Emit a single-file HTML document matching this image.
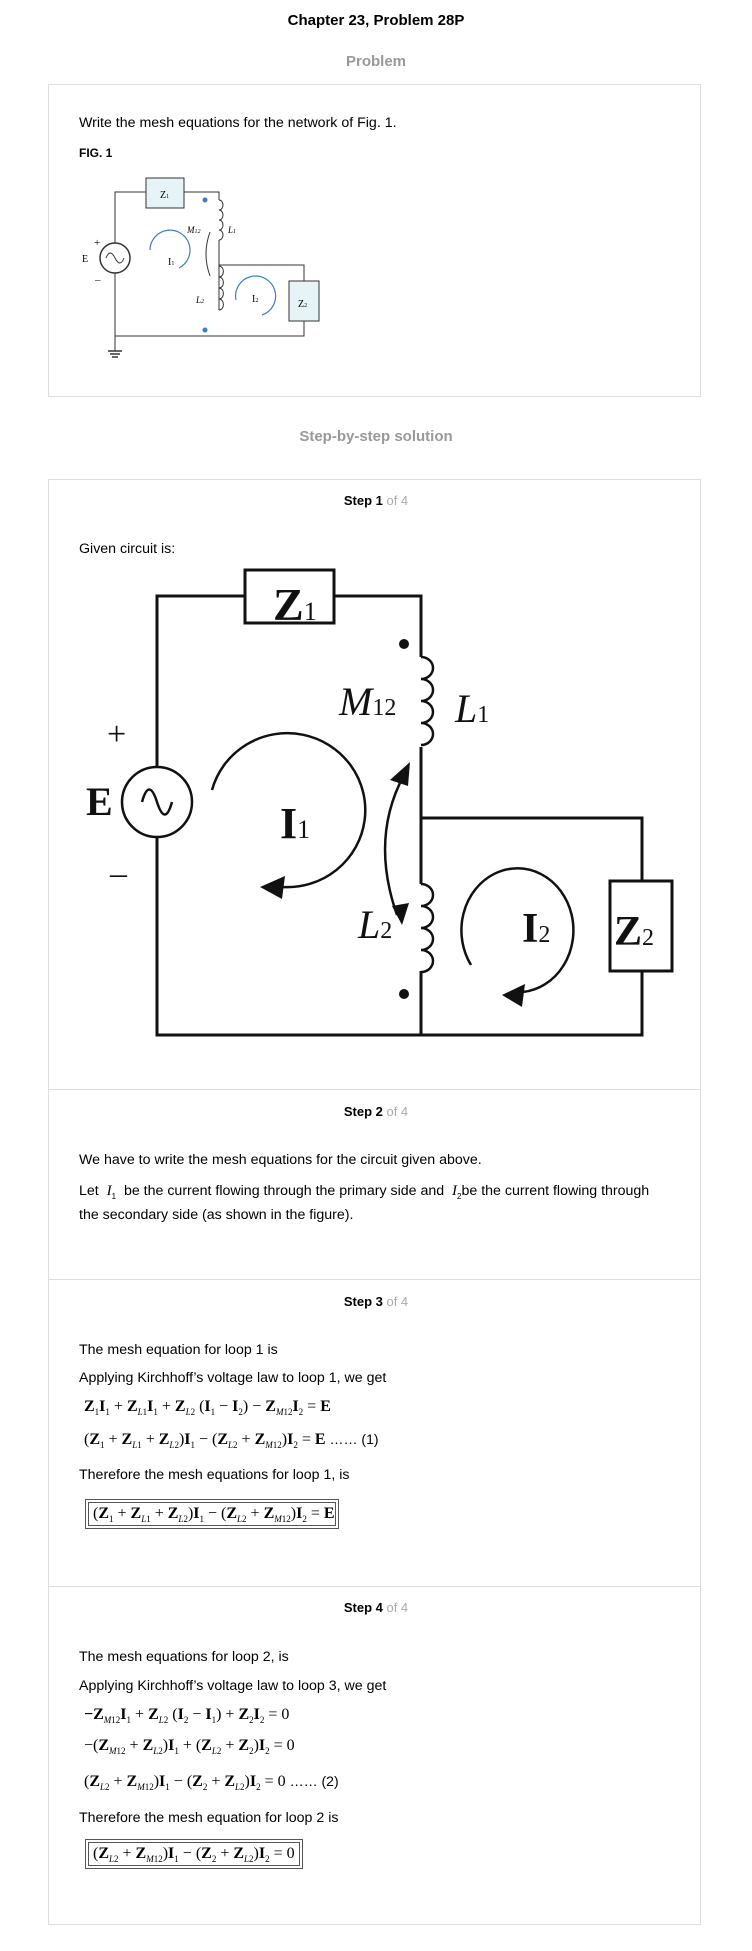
<!DOCTYPE html>
<html><head><meta charset="utf-8">
<style>
body{margin:0;width:752px;height:1951px;background:#fff;font-family:"Liberation Sans",Arial,sans-serif;color:#000;position:relative;overflow:hidden}
.a{position:absolute;white-space:nowrap}
.t{font-size:14.2px}
.box{position:absolute;left:48px;width:653px;border:1px solid #ddd;box-sizing:border-box}
.div{position:absolute;left:49px;width:652px;height:1px;background:#ddd}
.step{position:absolute;left:0;width:752px;text-align:center;font-size:13px;font-weight:bold}
.step span{color:#aaa;font-weight:normal}
.eq{font-family:"Liberation Serif",serif;font-weight:bold;font-size:16px}
.eq sub{font-size:9px;font-weight:normal}
.eq sub i{font-style:italic}
.eq .n{font-weight:normal}
.bx{border:1px solid #555;padding:2px 3px;outline:1px solid #555;outline-offset:-4px}
</style></head><body>
<div class="a" style="left:0;width:752px;text-align:center;top:12px;font-size:15px;font-weight:bold">Chapter 23, Problem 28P</div>
<div class="a" style="left:0;width:752px;text-align:center;top:53px;font-size:15px;font-weight:bold;color:#999">Problem</div>
<div class="box" style="top:84px;height:313px"></div>
<div class="a t" style="left:79px;top:115px">Write the mesh equations for the network of Fig. 1.</div>
<div class="a" style="left:79px;top:146px;font-size:12px;font-weight:bold">FIG. 1</div>
<svg class="a" style="left:0;top:0" width="752" height="420">
<g stroke="#333" stroke-width="1" fill="none">
<path d="M115 243V192H146M184 192H219V200M219 240V310M219 336V336H304V321M304 281V265H219M115 273V351M115 336H219"/>
<rect x="146" y="178" width="38" height="30" fill="#e6f4f8"/>
<rect x="289" y="281" width="30" height="40" fill="#e6f4f8"/>
<circle cx="115" cy="258" r="15" stroke-width="1.5"/>
<path d="M106 258q4-10 9 0t9 0"/>
<path d="M219 200a4 5 0 0 1 0 10a4 5 0 0 1 0 10a4 5 0 0 1 0 10a4 5 0 0 1 0 10"/>
<path d="M219 266a4 5 0 0 1 0 11a4 5 0 0 1 0 11a4 5 0 0 1 0 11a4 5 0 0 1 0 11"/>
<path d="M108 351h14M110 354h10M112 357h6" stroke-width="1.5"/>
<path d="M210 232q-8 22 0 44"/>
</g>
<g stroke="#3b7fc4" fill="none" stroke-width="1.2"><path d="M150 250a20 20 0 1 1 29 18"/><path d="M236 300a20 20 0 1 1 26 15"/></g>
<circle cx="205" cy="200" r="2.5" fill="#3b7fc4"/><circle cx="205" cy="330" r="2.5" fill="#3b7fc4"/>
<g font-family="Liberation Serif" font-size="10"><text x="160" y="198">Z<tspan font-size="6">1</tspan></text><text x="298" y="307">Z<tspan font-size="6">2</tspan></text><text x="187" y="233" font-style="italic" font-size="9">M<tspan font-size="6">12</tspan></text><text x="228" y="233" font-style="italic" font-size="9">L<tspan font-size="6">1</tspan></text><text x="196" y="303" font-style="italic" font-size="9">L<tspan font-size="6">2</tspan></text><text x="168" y="265">I<tspan font-size="6">1</tspan></text><text x="252" y="302">I<tspan font-size="6">2</tspan></text><text x="82" y="262">E</text><text x="94" y="246" font-size="11">+</text><text x="95" y="283" font-size="11">–</text></g>
</svg>
<div class="a" style="left:0;width:752px;text-align:center;top:428px;font-size:15px;font-weight:bold;color:#999">Step-by-step solution</div>
<div class="box" style="top:479px;height:1446px"></div>
<div class="step" style="top:493px">Step 1 <span>of 4</span></div>
<div class="a t" style="left:79px;top:541px">Given circuit is:</div>
<svg class="a" style="left:0;top:0" width="752" height="1060">
<g stroke="#111" stroke-width="3" fill="none">
<path d="M157 767V596H245M334 596H421V657M421 747V884M421 971V1035H157V837M421 818H642V881M642 971V1035H421"/>
<rect x="245" y="570" width="89" height="53"/>
<rect x="610" y="881" width="62" height="90"/>
<circle cx="157" cy="802" r="35" stroke-width="2.5"/>
<path d="M142 802q7-25 15 0t15 0" stroke-width="2.5"/>
<path d="M421 657a12 11 0 0 1 0 22a12 11 0 0 1 0 22a12 11 0 0 1 0 22a12 11 0 0 1 0 22" stroke-width="2.5"/>
<path d="M421 884a12 11 0 0 1 0 22a12 11 0 0 1 0 22a12 11 0 0 1 0 22a12 11 0 0 1 0 22" stroke-width="2.5"/>
<path d="M212 790A78 77 0 1 1 282 887H272" stroke-width="2.5"/>
<path d="M471 965A56 62 0 1 1 523 992H514" stroke-width="2.5"/>
<path d="M404 775Q370 838 397 915" stroke-width="2.5"/>
</g>
<g fill="#111"><polygon points="260,887 285,876 282,899"/><polygon points="502,995 525,984 522,1007"/><polygon points="410,762 390,780 408,786"/><polygon points="402,925 392,906 409,903"/><circle cx="404" cy="644" r="5"/><circle cx="404" cy="994" r="5"/></g>
<g font-family="Liberation Serif" fill="#111">
<text x="273" y="620" font-size="46" font-weight="bold">Z<tspan font-size="26" font-weight="normal">1</tspan></text>
<text x="614" y="945" font-size="42" font-weight="bold">Z<tspan font-size="24" font-weight="normal">2</tspan></text>
<text x="339" y="715" font-size="40" font-style="italic">M<tspan font-size="24" font-style="normal">12</tspan></text>
<text x="455" y="722" font-size="40" font-style="italic">L<tspan font-size="24" font-style="normal">1</tspan></text>
<text x="358" y="938" font-size="40" font-style="italic">L<tspan font-size="24" font-style="normal">2</tspan></text>
<text x="280" y="838" font-size="44" font-weight="bold">I<tspan font-size="26" font-weight="normal">1</tspan></text>
<text x="522" y="942" font-size="42" font-weight="bold">I<tspan font-size="24" font-weight="normal">2</tspan></text>
<text x="86" y="815" font-size="40" font-weight="bold">E</text>
<text x="107" y="745" font-size="34">+</text>
<text x="110" y="884" font-size="34">–</text>
</g>
</svg>
<div class="div" style="top:1089px"></div>
<div class="step" style="top:1104px">Step 2 <span>of 4</span></div>
<div class="a t" style="left:79px;top:1152px">We have to write the mesh equations for the circuit given above.</div>
<div class="a t" style="left:79px;top:1183px">Let &nbsp;<i style="font-family:'Liberation Serif';font-size:15px">I</i><sub style="font-size:8px">1</sub>&nbsp; be the current flowing through the primary side and &nbsp;<i style="font-family:'Liberation Serif';font-size:15px">I</i><sub style="font-size:8px">2</sub>be the current flowing through</div>
<div class="a t" style="left:79px;top:1207px">the secondary side (as shown in the figure).</div>
<div class="div" style="top:1279px"></div>
<div class="step" style="top:1294px">Step 3 <span>of 4</span></div>
<div class="a t" style="left:79px;top:1342px">The mesh equation for loop 1 is</div>
<div class="a t" style="left:79px;top:1370px">Applying Kirchhoff’s voltage law to loop 1, we get</div>
<div class="a eq" style="left:84px;top:1398px">Z<sub>1</sub>I<sub>1</sub> <span class="n">+</span> Z<sub><i>L</i>1</sub>I<sub>1</sub> <span class="n">+</span> Z<sub><i>L</i>2</sub> <span class="n">(</span>I<sub>1</sub> <span class="n">−</span> I<sub>2</sub><span class="n">)</span> <span class="n">−</span> Z<sub><i>M</i>12</sub>I<sub>2</sub> <span class="n">=</span> E</div>
<div class="a eq" style="left:84px;top:1431px"><span class="n">(</span>Z<sub>1</sub> <span class="n">+</span> Z<sub><i>L</i>1</sub> <span class="n">+</span> Z<sub><i>L</i>2</sub><span class="n">)</span>I<sub>1</sub> <span class="n">−</span> <span class="n">(</span>Z<sub><i>L</i>2</sub> <span class="n">+</span> Z<sub><i>M</i>12</sub><span class="n">)</span>I<sub>2</sub> <span class="n">=</span> E <span style="font-family:'Liberation Sans';font-weight:normal;font-size:14px">…… (1)</span></div>
<div class="a t" style="left:79px;top:1467px">Therefore the mesh equations for loop 1, is</div>
<div class="a eq bx" style="left:85px;top:1499px;width:246px;height:24px;line-height:24px">&nbsp;<span class="n">(</span>Z<sub>1</sub> <span class="n">+</span> Z<sub><i>L</i>1</sub> <span class="n">+</span> Z<sub><i>L</i>2</sub><span class="n">)</span>I<sub>1</sub> <span class="n">−</span> <span class="n">(</span>Z<sub><i>L</i>2</sub> <span class="n">+</span> Z<sub><i>M</i>12</sub><span class="n">)</span>I<sub>2</sub> <span class="n">=</span> E</div>
<div class="div" style="top:1586px"></div>
<div class="step" style="top:1600px">Step 4 <span>of 4</span></div>
<div class="a t" style="left:79px;top:1649px">The mesh equations for loop 2, is</div>
<div class="a t" style="left:79px;top:1678px">Applying Kirchhoff’s voltage law to loop 3, we get</div>
<div class="a eq" style="left:84px;top:1706px">−Z<sub><i>M</i>12</sub>I<sub>1</sub> <span class="n">+</span> Z<sub><i>L</i>2</sub> <span class="n">(</span>I<sub>2</sub> <span class="n">−</span> I<sub>1</sub><span class="n">)</span> <span class="n">+</span> Z<sub>2</sub>I<sub>2</sub> <span class="n">= 0</span></div>
<div class="a eq" style="left:84px;top:1737px"><span class="n">−(</span>Z<sub><i>M</i>12</sub> <span class="n">+</span> Z<sub><i>L</i>2</sub><span class="n">)</span>I<sub>1</sub> <span class="n">+</span> <span class="n">(</span>Z<sub><i>L</i>2</sub> <span class="n">+</span> Z<sub>2</sub><span class="n">)</span>I<sub>2</sub> <span class="n">= 0</span></div>
<div class="a eq" style="left:84px;top:1773px"><span class="n">(</span>Z<sub><i>L</i>2</sub> <span class="n">+</span> Z<sub><i>M</i>12</sub><span class="n">)</span>I<sub>1</sub> <span class="n">−</span> <span class="n">(</span>Z<sub>2</sub> <span class="n">+</span> Z<sub><i>L</i>2</sub><span class="n">)</span>I<sub>2</sub> <span class="n">= 0</span> <span style="font-family:'Liberation Sans';font-weight:normal;font-size:14px">…… (2)</span></div>
<div class="a t" style="left:79px;top:1810px">Therefore the mesh equation for loop 2 is</div>
<div class="a eq bx" style="left:85px;top:1839px;width:210px;height:24px;line-height:24px">&nbsp;<span class="n">(</span>Z<sub><i>L</i>2</sub> <span class="n">+</span> Z<sub><i>M</i>12</sub><span class="n">)</span>I<sub>1</sub> <span class="n">−</span> <span class="n">(</span>Z<sub>2</sub> <span class="n">+</span> Z<sub><i>L</i>2</sub><span class="n">)</span>I<sub>2</sub> <span class="n">= 0</span></div>
</body></html>
